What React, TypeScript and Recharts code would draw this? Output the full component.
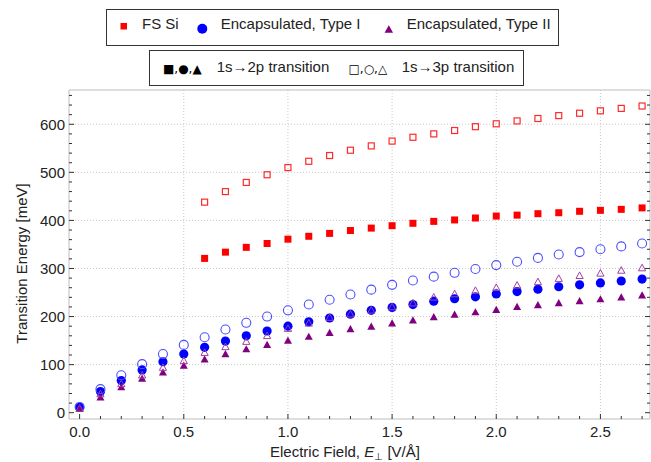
import React from 'react';
import { ScatterChart, Scatter, XAxis, YAxis, CartesianGrid } from 'recharts';

// ---------- data ----------
const fieldTypeI = [0, 0.1, 0.2, 0.3, 0.4, 0.5, 0.6, 0.7, 0.8, 0.9, 1.0, 1.1, 1.2, 1.3, 1.4, 1.5, 1.6, 1.7, 1.8, 1.9, 2.0, 2.1, 2.2, 2.3, 2.4, 2.5, 2.6, 2.7];
const fieldFS = [0.6, 0.7, 0.8, 0.9, 1.0, 1.1, 1.2, 1.3, 1.4, 1.5, 1.6, 1.7, 1.8, 1.9, 2.0, 2.1, 2.2, 2.3, 2.4, 2.5, 2.6, 2.7];

const fsSi2p = [321, 334, 344, 352, 361, 367, 373, 379, 384, 389, 394, 398, 401, 405, 409, 411, 414, 416, 419, 421, 423, 426];
const fsSi3p = [438, 460, 479, 495, 510, 523, 535, 546, 555, 565, 573, 580, 587, 595, 601, 607, 612, 618, 623, 628, 633, 638];

const typeI2p = [11, 44, 67, 89, 106, 122, 136, 149, 160, 170, 180, 189, 197, 205, 213, 219, 225, 232, 237, 241, 247, 252, 257, 262, 266, 270, 274, 278];
const typeI3p = [12, 49, 78, 101, 122, 141, 157, 173, 187, 200, 213, 225, 235, 246, 256, 266, 275, 283, 291, 299, 307, 314, 322, 329, 334, 340, 346, 352];

const typeII2p = [9, 33, 54, 72, 85, 99, 112, 123, 133, 142, 151, 159, 167, 175, 180, 187, 193, 200, 205, 210, 215, 221, 225, 229, 233, 237, 241, 245];
const typeII3p = [10, 40, 61, 79, 95, 109, 126, 138, 149, 161, 176, 187, 199, 206, 214, 221, 229, 241, 248, 255, 261, 266, 273, 280, 286, 291, 297, 302];

// every 5th tick is a major (labelled) tick
const xTicks = [0, 0.1, 0.2, 0.3, 0.4, 0.5, 0.6, 0.7, 0.8, 0.9, 1.0, 1.1, 1.2, 1.3, 1.4, 1.5, 1.6, 1.7, 1.8, 1.9, 2.0, 2.1, 2.2, 2.3, 2.4, 2.5, 2.6, 2.7];
const yTicks = [0, 20, 40, 60, 80, 100, 120, 140, 160, 180, 200, 220, 240, 260, 280, 300, 320, 340, 360, 380, 400, 420, 440, 460, 480, 500, 520, 540, 560, 580, 600, 620, 640, 660];

const xDomain: [number, number] = [-0.051, 2.738];
const yDomain: [number, number] = [-13.1, 671.3];

// ---------- styling ----------
const W = 651;
const H = 462;
const MARGIN = { top: 89, right: 0, bottom: 42, left: 68 };
const FONT = '"Liberation Sans", Arial, Helvetica, sans-serif';
const TEXT = '#222';
const TICK = '#333';
const FRAME = '#bdbdbd';
const GRID = '#c8c8c8';
const MAJOR_LEN = 5;
const MINOR_LEN = 3;

const toPoints = (xs: number[], ys: number[]) => xs.map((x, i) => ({ x, y: ys[i] }));
const isMajorIdx = (i: number) => i % 5 === 0;

// ---------- ticks ----------
const BottomTick = (p: any) => {
  const major = isMajorIdx(p.index);
  return (
    <g>
      <line x1={p.x} x2={p.x} y1={p.y} y2={p.y - (major ? MAJOR_LEN : MINOR_LEN)} stroke={TICK} />
      {major && (
        <text x={p.x} y={p.y + 18} textAnchor="middle" fontFamily={FONT} fontSize={15} fill={TEXT}>
          {Number(p.payload.value).toFixed(1)}
        </text>
      )}
    </g>
  );
};
const TopTick = (p: any) => (
  <line x1={p.x} x2={p.x} y1={p.y} y2={p.y + (isMajorIdx(p.index) ? MAJOR_LEN : MINOR_LEN)} stroke={TICK} />
);
const LeftTick = (p: any) => {
  const major = isMajorIdx(p.index);
  return (
    <g>
      <line x1={p.x} x2={p.x + (major ? MAJOR_LEN : MINOR_LEN)} y1={p.y} y2={p.y} stroke={TICK} />
      {major && (
        <text x={p.x - 4} y={p.y + 5.3} textAnchor="end" fontFamily={FONT} fontSize={15} fill={TEXT}>
          {p.payload.value}
        </text>
      )}
    </g>
  );
};
const RightTick = (p: any) => (
  <line x1={p.x} x2={p.x - (isMajorIdx(p.index) ? MAJOR_LEN : MINOR_LEN)} y1={p.y} y2={p.y} stroke={TICK} />
);

// ---------- grid lines at major ticks, skipping the zero lines ----------
const GridLine = (p: any) =>
  p.index > 0 && isMajorIdx(p.index) ? (
    <line key={p.key} x1={p.x1} x2={p.x2} y1={p.y1} y2={p.y2} stroke={GRID} strokeDasharray="1 2" />
  ) : (
    <g key={p.key} />
  );

// ---------- markers ----------
const FilledSquare = (p: any) => <rect x={p.cx - 3.5} y={p.cy - 3.5} width={7} height={7} fill="#ff0000" />;
const OpenSquare = (p: any) => (
  <rect x={p.cx - 3} y={p.cy - 3} width={6} height={6} fill="none" stroke="#ff2a2a" strokeWidth={1.2} />
);
const FilledCircle = (p: any) => <circle cx={p.cx} cy={p.cy} r={4.6} fill="#0000ff" />;
const OpenCircle = (p: any) => <circle cx={p.cx} cy={p.cy} r={4.5} fill="none" stroke="#4d4dff" strokeWidth={1.1} />;
const triPath = (cx: number, cy: number, w: number, h: number) =>
  `M${cx},${cy - h / 2} L${cx + w / 2},${cy + h / 2} L${cx - w / 2},${cy + h / 2} Z`;
const FilledTriangle = (p: any) => <path d={triPath(p.cx, p.cy, 8, 7.2)} fill="#800080" />;
const OpenTriangle = (p: any) => <path d={triPath(p.cx, p.cy, 7.2, 6.6)} fill="none" stroke="#a040a0" strokeWidth={1} />;

export default function App() {
  const fs2 = toPoints(fieldFS, fsSi2p);
  const fs3 = toPoints(fieldFS, fsSi3p);
  const t12 = toPoints(fieldTypeI, typeI2p);
  const t13 = toPoints(fieldTypeI, typeI3p);
  const t22 = toPoints(fieldTypeI, typeII2p);
  const t23 = toPoints(fieldTypeI, typeII3p);

  const common = {
    type: 'number' as const,
    allowDataOverflow: true,
    interval: 0 as const,
    tickSize: 0,
    tickMargin: 0,
    tickLine: false,
    axisLine: { stroke: FRAME },
  };

  return (
    <div style={{ position: 'absolute', left: 0, top: 0, width: W, height: H, background: '#fff' }}>
      <ScatterChart width={W} height={H} margin={MARGIN}>
        <CartesianGrid xAxisId={0} yAxisId={0} syncWithTicks vertical={GridLine} horizontal={GridLine} />
        <XAxis {...common} xAxisId={0} dataKey="x" orientation="bottom" height={1} domain={xDomain} ticks={xTicks} tick={BottomTick} />
        <XAxis {...common} xAxisId="top" orientation="top" height={1} domain={xDomain} ticks={xTicks} tick={TopTick} />
        <YAxis {...common} yAxisId={0} dataKey="y" orientation="left" width={1} domain={yDomain} ticks={yTicks} tick={LeftTick} />
        <YAxis {...common} yAxisId="right" orientation="right" width={1} domain={yDomain} ticks={yTicks} tick={RightTick} />

        <Scatter name="FS Si 1s→2p" data={fs2} shape={FilledSquare} isAnimationActive={false} />
        <Scatter name="FS Si 1s→3p" data={fs3} shape={OpenSquare} isAnimationActive={false} />
        <Scatter name="Type I 1s→2p" data={t12} shape={FilledCircle} isAnimationActive={false} />
        <Scatter name="Type I 1s→3p" data={t13} shape={OpenCircle} isAnimationActive={false} />
        <Scatter name="Type II 1s→2p" data={t22} shape={FilledTriangle} isAnimationActive={false} />
        <Scatter name="Type II 1s→3p" data={t23} shape={OpenTriangle} isAnimationActive={false} />
      </ScatterChart>

      <svg width={W} height={H} style={{ position: 'absolute', left: 0, top: 0, pointerEvents: 'none' }}>
        {/* legend 1 */}
        <rect x={106.5} y={9.5} width={452} height={36} fill="#fff" stroke="#333" />
        <rect x={120.5} y={23} width={6.5} height={6.5} fill="#ff0000" />
        <text x={142} y={29.3} fontFamily={FONT} fontSize={15} fill={TEXT}>FS Si</text>
        <circle cx={202.3} cy={28.7} r={5} fill="#0000ff" />
        <text x={220.7} y={29.3} fontFamily={FONT} fontSize={15} fill={TEXT}>Encapsulated, Type I</text>
        <path d={triPath(388.8, 29, 8.5, 7.6)} fill="#800080" />
        <text x={406.7} y={29.3} fontFamily={FONT} fontSize={15} fill={TEXT}>Encapsulated, Type II</text>

        {/* legend 2 */}
        <rect x={149.5} y={50.5} width={374} height={35} fill="#fff" stroke="#333" />
        <text x={163} y={72.6} fontFamily='"DejaVu Sans", sans-serif' fontSize={12} fill="#000">■,●,▲</text>
        <text x={216.7} y={72.4} fontFamily={FONT} fontSize={15} fill={TEXT}>1s→2p transition</text>
        <text x={348.5} y={72.6} fontFamily='"DejaVu Sans", sans-serif' fontSize={12} fill="#000">□,○,△</text>
        <text x={401.7} y={72.4} fontFamily={FONT} fontSize={15} fill={TEXT}>1s→3p transition</text>

        {/* axis titles */}
        <text x={270} y={457} fontFamily={FONT} fontSize={15} fill={TEXT}>
          Electric Field, <tspan fontStyle="italic">E</tspan>
          <tspan fontSize={10} dy={3}>⊥</tspan>
          <tspan dy={-3}> [V/Å]</tspan>
        </text>
        <text transform="translate(26.5,263.5) rotate(-90)" textAnchor="middle" fontFamily={FONT} fontSize={15} fill={TEXT}>
          Transition Energy [meV]
        </text>
      </svg>
    </div>
  );
}
